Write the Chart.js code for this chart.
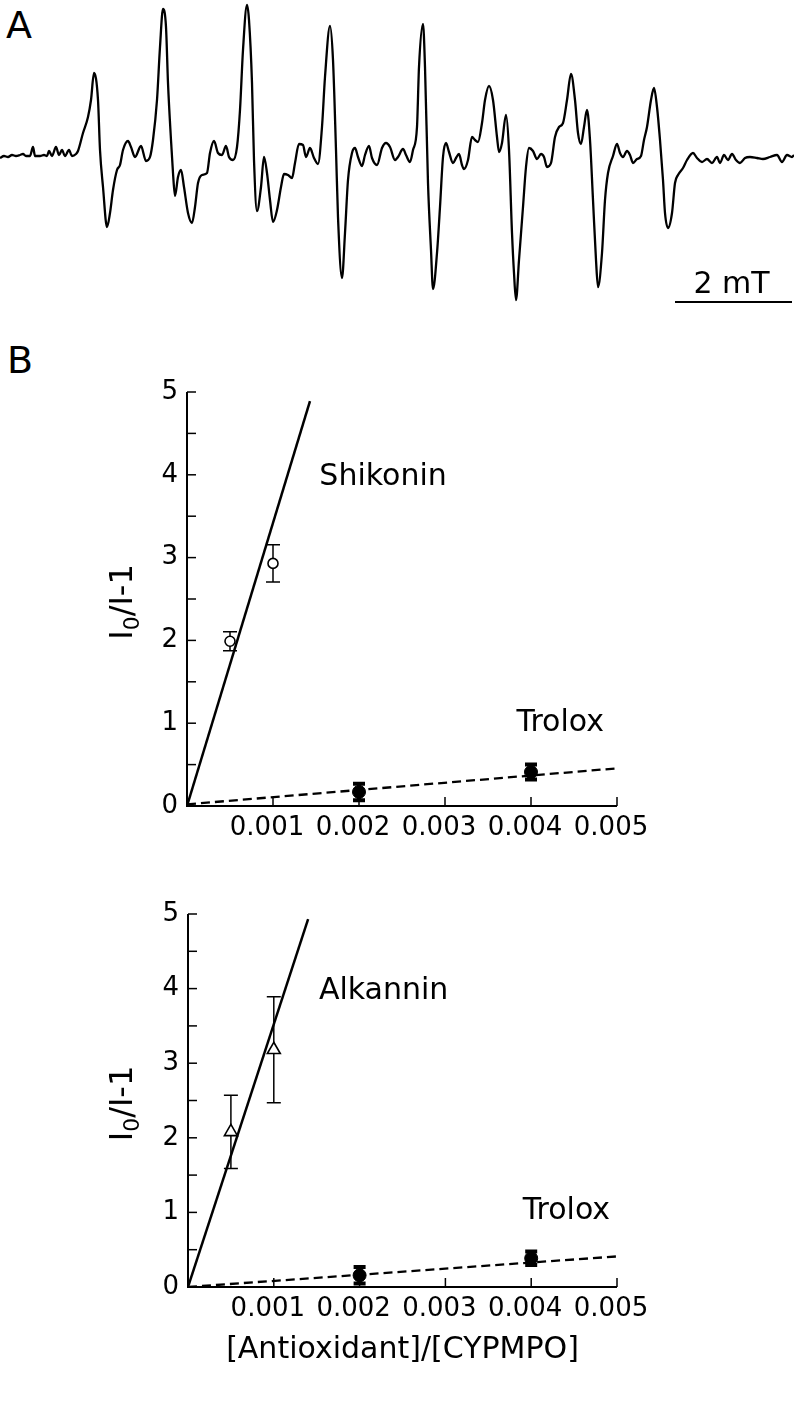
<!DOCTYPE html>
<html><head><meta charset="utf-8">
<script src="https://cdn.jsdelivr.net/npm/chart.js@4.4.1/dist/chart.umd.min.js"></script>
<style>
html,body{margin:0;padding:0;background:#fff;}
body{width:794px;height:1416px;position:relative;overflow:hidden;font-family:"DejaVu Sans";}
canvas{position:absolute;left:0;display:block;}
.panel{position:absolute;font-family:"DejaVu Sans";font-size:38px;line-height:38px;color:#000;}
</style></head><body>
<div class="panel" style="left:6px;top:6px">A</div>
<div class="panel" style="left:7px;top:341px">B</div>
<canvas id="cA" width="794" height="310" style="top:0;width:794px;height:310px"></canvas>
<canvas id="cB1" width="794" height="520" style="top:340px;width:794px;height:520px"></canvas>
<canvas id="cB2" width="794" height="556" style="top:860px;width:794px;height:556px"></canvas>
<script>
// ---------- Panel A: EPR spectrum (field in data points, signal in a.u.) ----------
const spectrumField = [0,4,8,12,16,20,23,26,30,33,35,40,44,47,49,52,56,59,62,65,69,72,76,78,83,88,91,94,98,100,103,107,110,113,117,120,123,128,131,135,141,146,150,153,157,160,163,166,168,171,173,175,178,181,184,188,192,195,198,202,207,210,214,218,222,226,229,233,237,240,243,247,249,252,254,257,261,264,267,270,273,277,281,284,288,292,295,299,303,306,310,314,318,322,325,330,333,336,338,342,345,348,352,355,358,362,365,369,372,377,382,386,390,395,398,403,406,410,413,417,419,423,425,428,431,433,437,440,443,446,449,453,456,459,462,464,468,472,475,478,482,485,489,493,497,499,502,506,509,512,514,516,519,523,526,529,533,537,541,544,547,551,555,559,563,567,571,575,578,581,584,587,590,593,596,598,602,605,608,613,617,620,623,627,630,633,637,641,644,647,651,654,657,660,663,665,668,672,675,678,683,687,693,697,702,707,712,717,720,724,728,732,736,740,745,750,757,763,770,777,782,787,792,794];
const spectrumSignal = [-3,-1,-2,0,-1,0,1,-1,-1,8,-1,-1,0,-1,4,-1,8,0,5,-1,5,-1,1,4,22,38,55,82,55,5,-32,-72,-58,-35,-15,-10,5,14,8,-2,9,-6,-2,15,55,108,146,128,72,15,-18,-41,-22,-15,-32,-58,-68,-52,-28,-20,-18,2,14,2,0,9,-2,-5,8,45,105,150,135,72,-5,-56,-32,-2,-18,-45,-67,-55,-32,-19,-20,-23,-8,11,10,-2,7,-3,-9,28,78,129,95,5,-62,-123,-78,-25,2,7,-2,-11,0,9,-3,-10,7,12,8,-5,-2,6,0,-7,5,28,88,131,88,-28,-95,-134,-98,-52,-2,12,3,-8,-3,1,-10,-14,-5,18,15,13,32,55,69,55,18,3,12,40,5,-78,-118,-145,-105,-52,-12,7,4,-4,1,-2,-12,-8,18,28,32,55,81,55,22,11,28,45,15,-45,-105,-132,-98,-45,-18,-1,11,2,-2,4,0,-8,-4,-1,15,28,55,67,48,15,-25,-58,-73,-58,-28,-20,-13,-5,2,-3,-7,-4,-8,-2,-8,0,-5,1,-5,-8,-3,-2,-3,-4,-2,0,-7,0,-2,0];
const pointsPerMT = 58.5;
const scaleBarMT = 2;
const scaleBarStart = 675;
const scaleBarLabel = '2 mT';

// ---------- Panel B data ----------
const xTickValues = [0.001, 0.002, 0.003, 0.004, 0.005];
const yTickLabels = ['0','1','2','3','4','5'];
const ratioX = [0.0005, 0.001];
const troloxX = [0.002, 0.004];

const shikoninY = [1.99, 2.93];
const shikoninErr = [0.115, 0.225];
const shikoninFitX = [0, 0.00143];
const shikoninFitY = [0, 4.89];
const troloxY1 = [0.17, 0.41];
const troloxErr1 = [0.1, 0.09];
const troloxFitX = [0, 0.005];
const troloxFitY1 = [0.02, 0.455];

const alkanninY = [2.08, 3.18];
const alkanninErr = [0.49, 0.71];
const alkanninFitX = [0, 0.0014];
const alkanninFitY = [0, 4.93];
const troloxY2 = [0.157, 0.385];
const troloxErr2 = [0.11, 0.09];
const troloxFitY2 = [0, 0.41];

const FONT = '"DejaVu Sans"';
const pts = (xs, ys) => xs.map((v, i) => ({x: v, y: ys[i]}));

// ---------- Panel A chart ----------
const scaleBarPlugin = {
  id: 'scaleBar',
  afterDraw(chart) {
    const {ctx, scales: {x, y}} = chart;
    const x1 = x.getPixelForValue(scaleBarStart);
    const x2 = x.getPixelForValue(scaleBarStart + scaleBarMT * pointsPerMT);
    const py = y.getPixelForValue(-147);
    ctx.save();
    ctx.strokeStyle = '#000'; ctx.lineWidth = 2;
    ctx.beginPath(); ctx.moveTo(x1, py); ctx.lineTo(x2, py); ctx.stroke();
    ctx.fillStyle = '#000'; ctx.font = '30px ' + FONT;
    ctx.textAlign = 'center'; ctx.textBaseline = 'alphabetic';
    ctx.fillText(scaleBarLabel, (x1 + x2) / 2 - 2, py - 9);
    ctx.restore();
  }
};

new Chart(document.getElementById('cA'), {
  type: 'line',
  data: { datasets: [{
    data: pts(spectrumField, spectrumSignal),
    borderColor: '#000', borderWidth: 2.3, pointRadius: 0,
    cubicInterpolationMode: 'monotone', fill: false
  }]},
  options: {
    responsive: false, animation: false,
    layout: { padding: 0 },
    plugins: { legend: { display: false }, tooltip: { enabled: false } },
    scales: {
      x: { type: 'linear', display: false, min: 0, max: 794 },
      y: { display: false, min: -155, max: 155 }
    }
  },
  plugins: [scaleBarPlugin]
});

// ---------- Panel B charts ----------
const framePlugin = {
  id: 'frame',
  beforeDatasetsDraw(chart, args, opts) {
    const {ctx, scales: {x, y}} = chart;
    ctx.save(); ctx.strokeStyle = '#000';
    (opts.errorBars || []).forEach(eb => {
      eb.x.forEach((xv, i) => {
        const px = x.getPixelForValue(xv);
        const top = y.getPixelForValue(eb.y[i] + eb.err[i]);
        const bot = y.getPixelForValue(eb.y[i] - eb.err[i]);
        ctx.lineWidth = eb.lw;
        ctx.beginPath();
        ctx.moveTo(px, top); ctx.lineTo(px, bot);
        ctx.stroke();
        ctx.lineWidth = eb.capLw;
        ctx.beginPath();
        ctx.moveTo(px - eb.cap, top); ctx.lineTo(px + eb.cap, top);
        ctx.moveTo(px - eb.cap, bot); ctx.lineTo(px + eb.cap, bot);
        ctx.stroke();
      });
    });
    ctx.restore();
  },
  afterDraw(chart, args, opts) {
    const {ctx, chartArea: ca, scales: {x, y}} = chart;
    ctx.save();
    ctx.strokeStyle = '#000'; ctx.lineWidth = 2;
    ctx.beginPath();
    ctx.moveTo(ca.left, ca.top); ctx.lineTo(ca.left, ca.bottom); ctx.lineTo(ca.right, ca.bottom);
    ctx.stroke();
    ctx.lineWidth = 1.5;
    y.ticks.forEach(t => {
      if (t.value === 0) return;
      const py = y.getPixelForValue(t.value);
      ctx.beginPath(); ctx.moveTo(ca.left, py); ctx.lineTo(ca.left + 9, py); ctx.stroke();
    });
    x.ticks.forEach(t => {
      if (t.value === 0) return;
      const px = x.getPixelForValue(t.value);
      ctx.beginPath(); ctx.moveTo(px, ca.bottom); ctx.lineTo(px, ca.bottom - 9); ctx.stroke();
    });
    // y title with subscript
    ctx.fillStyle = '#000';
    ctx.translate(opts.yTitleX, (ca.top + ca.bottom) / 2 + 3);
    ctx.rotate(-Math.PI / 2);
    const big = '32px ' + FONT, small = '22px ' + FONT;
    ctx.font = big; const w1 = ctx.measureText('I').width; const w3 = ctx.measureText('/I-1').width;
    ctx.font = small; const w2 = ctx.measureText('0').width;
    let sx = -(w1 + w2 + w3) / 2;
    ctx.textAlign = 'left'; ctx.textBaseline = 'alphabetic';
    ctx.font = big; ctx.fillText('I', sx, 12); sx += w1;
    ctx.font = small; ctx.fillText('0', sx, 19); sx += w2;
    ctx.font = big; ctx.fillText('/I-1', sx, 12);
    ctx.setTransform(1, 0, 0, 1, 0, 0);
    // annotations
    ctx.font = '30px ' + FONT; ctx.textAlign = 'center'; ctx.textBaseline = 'middle';
    (opts.labels || []).forEach(l => {
      ctx.fillText(l.text, x.getPixelForValue(l.x), y.getPixelForValue(l.y));
    });
    if (opts.xTitle) {
      ctx.font = '30px ' + FONT;
      ctx.fillText(opts.xTitle, (ca.left + ca.right) / 2, ca.bottom + opts.xTitleOffset);
    }
    ctx.restore();
  }
};

function makePanel(id, cfg) {
  const canvas = document.getElementById(id);
  const H = canvas.height;
  return new Chart(canvas, {
    type: 'scatter',
    data: { datasets: [
      { data: pts(ratioX, cfg.markY), pointStyle: cfg.markStyle, pointRadius: cfg.markRadius,
        backgroundColor: '#fff', borderColor: '#000', borderWidth: 1.6, order: 0 },
      { data: pts(troloxX, cfg.trolY), pointStyle: 'circle', pointRadius: 6.5,
        backgroundColor: '#000', borderColor: '#000', borderWidth: 1, order: 0 },
      { data: pts(cfg.fitX, cfg.fitY), showLine: true, pointRadius: 0, borderColor: '#000',
        borderWidth: 2.5, order: 1 },
      { data: pts(troloxFitX, cfg.trolFitY), showLine: true, pointRadius: 0, borderColor: '#000',
        borderWidth: 2.3, borderDash: [9, 5], order: 1 }
    ]},
    options: {
      responsive: false, animation: false,
      layout: { padding: { left: 0, top: cfg.top, right: 794 - cfg.right, bottom: 0 } },
      plugins: {
        legend: { display: false }, tooltip: { enabled: false },
        frame: {
          yTitleX: 120,
          errorBars: [
            { x: ratioX, y: cfg.markY, err: cfg.markErr, cap: 7, lw: 1.5, capLw: 1.5 },
            { x: troloxX, y: cfg.trolY, err: cfg.trolErr, cap: 6, lw: 4, capLw: 4 }
          ],
          labels: cfg.labels, xTitle: cfg.xTitle, xTitleOffset: 63
        }
      },
      scales: {
        x: { type: 'linear', min: 0, max: 0.005,
          grid: { display: false, drawTicks: false }, border: { display: false },
          afterBuildTicks: s => { s.ticks = [0].concat(xTickValues).map(v => ({value: v})); },
          afterFit: s => { s.height = H - cfg.bottom; },
          ticks: { color: '#000', font: { family: 'DejaVu Sans', size: 26 }, padding: 7,
            labelOffset: -6, maxRotation: 0, autoSkip: false,
            callback: v => v === 0 ? '' : Number(v).toFixed(3) } },
        y: { min: 0, max: 5,
          grid: { display: false, drawTicks: false }, border: { display: false },
          afterBuildTicks: s => { const t = []; for (let i = 0; i < yTickLabels.length; i++) { t.push({value: i}); if (i < yTickLabels.length - 1) t.push({value: i + 0.5}); } s.ticks = t; },
          afterFit: s => { s.width = cfg.left; },
          ticks: { color: '#000', font: { family: 'DejaVu Sans', size: 26 }, padding: 9, autoSkip: false,
            callback: v => Number.isInteger(v) ? yTickLabels[v] : '' } }
      }
    },
    plugins: [framePlugin]
  });
}

makePanel('cB1', {
  top: 52, bottom: 466, left: 187, right: 617,
  markY: shikoninY, markErr: shikoninErr, markStyle: 'circle', markRadius: 5,
  fitX: shikoninFitX, fitY: shikoninFitY,
  trolY: troloxY1, trolErr: troloxErr1, trolFitY: troloxFitY1,
  labels: [{text: 'Shikonin', x: 0.00228, y: 3.97}, {text: 'Trolox', x: 0.00434, y: 1.0}],
  xTitle: null
});
makePanel('cB2', {
  top: 54, bottom: 427, left: 188, right: 617,
  markY: alkanninY, markErr: alkanninErr, markStyle: 'triangle', markRadius: 7.5,
  fitX: alkanninFitX, fitY: alkanninFitY,
  trolY: troloxY2, trolErr: troloxErr2, trolFitY: troloxFitY2,
  labels: [{text: 'Alkannin', x: 0.00228, y: 3.96}, {text: 'Trolox', x: 0.00441, y: 1.02}],
  xTitle: '[Antioxidant]/[CYPMPO]'
});
</script>
</body></html>
